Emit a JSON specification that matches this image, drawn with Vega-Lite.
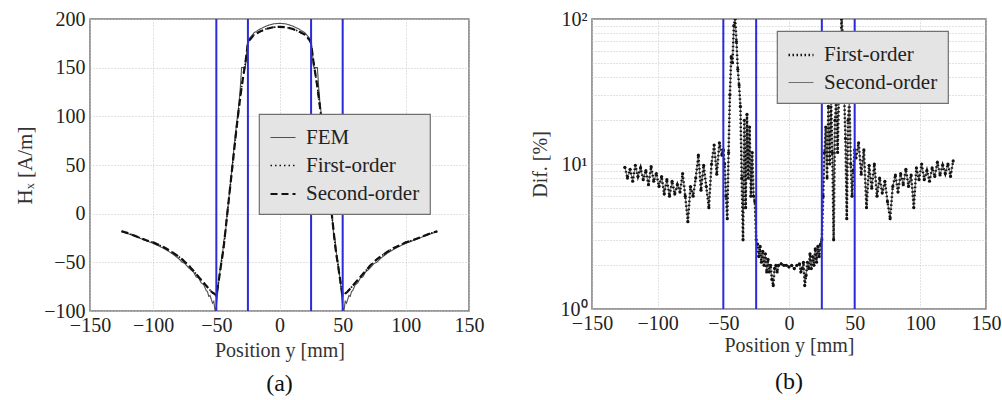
{
  "$schema": "https://vega.github.io/schema/vega-lite/v6.json",
  "background": "white",
  "padding": {"left": 13, "top": 8, "right": 5, "bottom": 5},
  "config": {
    "font": "Liberation Serif",
    "view": {"stroke": "#7a7a7a", "strokeWidth": 1.5},
    "axis": {
      "labelFont": "Liberation Serif", "labelFontSize": 20, "labelColor": "#222",
      "titleFont": "Liberation Serif", "titleFontSize": 20, "titleFontWeight": "normal", "titleColor": "#333",
      "domain": false, "ticks": false, "gridColor": "#c4c4c4", "gridDash": [1, 2], "gridWidth": 1,
      "labelPadding": 5, "labelFlush": false, "labelOverlap": false
    },
    "legend": {
      "orient": "none", "fillColor": "#e4e4e4", "strokeColor": "#707070", "strokeWidth": 1.2,
      "padding": 10, "symbolType": "stroke", "symbolSize": 625, "rowPadding": 4,
      "labelFont": "Liberation Serif", "labelFontSize": 21, "labelColor": "#222", "labelOffset": 9, "title": null
    }
  },
  "hconcat": [
    {
      "width": 379,
      "height": 292,
      "title": {"text": "(a)", "orient": "bottom", "fontSize": 24, "fontWeight": "normal", "font": "Liberation Serif", "color": "#111", "offset": 12},
      "layer": [
        {
          "data": {"values": [
            {"position": -125, "FEM": -18.5, "First-order": -18, "Second-order": -18},
            {"position": -120, "FEM": -20.5, "First-order": -20, "Second-order": -20},
            {"position": -115, "FEM": -23, "First-order": -22.5, "Second-order": -22.5},
            {"position": -110, "FEM": -25.5, "First-order": -25, "Second-order": -25},
            {"position": -105, "FEM": -28, "First-order": -27.5, "Second-order": -27.5},
            {"position": -100, "FEM": -30.5, "First-order": -29.5, "Second-order": -29.5},
            {"position": -95, "FEM": -33.5, "First-order": -32.5, "Second-order": -32.5},
            {"position": -90, "FEM": -37, "First-order": -35.5, "Second-order": -35.5},
            {"position": -85, "FEM": -41, "First-order": -39.5, "Second-order": -39.5},
            {"position": -80, "FEM": -46, "First-order": -44, "Second-order": -44},
            {"position": -77, "FEM": -50, "First-order": -47, "Second-order": -47},
            {"position": -75, "FEM": -51, "First-order": -49.5, "Second-order": -49.5},
            {"position": -72, "FEM": -55.5, "First-order": -53, "Second-order": -53},
            {"position": -70, "FEM": -58, "First-order": -56, "Second-order": -56},
            {"position": -68, "FEM": -60, "First-order": -59, "Second-order": -59},
            {"position": -66, "FEM": -65, "First-order": -62, "Second-order": -62},
            {"position": -64, "FEM": -66, "First-order": -65, "Second-order": -65},
            {"position": -62, "FEM": -71, "First-order": -68, "Second-order": -68},
            {"position": -60, "FEM": -73, "First-order": -71, "Second-order": -71},
            {"position": -58, "FEM": -79, "First-order": -74, "Second-order": -74},
            {"position": -57, "FEM": -80, "First-order": -75.5, "Second-order": -75.5},
            {"position": -56, "FEM": -85, "First-order": -77, "Second-order": -77},
            {"position": -55, "FEM": -84, "First-order": -78.5, "Second-order": -78.5},
            {"position": -54, "FEM": -88, "First-order": -80, "Second-order": -80},
            {"position": -53, "FEM": -92, "First-order": -81, "Second-order": -81},
            {"position": -52, "FEM": -90, "First-order": -82, "Second-order": -82},
            {"position": -51, "FEM": -100, "First-order": -83, "Second-order": -83},
            {"position": -50, "FEM": -96, "First-order": -85, "Second-order": -84},
            {"position": -49, "FEM": -82, "First-order": -76, "Second-order": -76},
            {"position": -48, "FEM": -68, "First-order": -68, "Second-order": -68},
            {"position": -46, "FEM": -48, "First-order": -50, "Second-order": -50},
            {"position": -45, "FEM": -40, "First-order": -42, "Second-order": -42},
            {"position": -44, "FEM": -27, "First-order": -32, "Second-order": -32},
            {"position": -43, "FEM": -24, "First-order": -20, "Second-order": -20},
            {"position": -42, "FEM": -8, "First-order": -8, "Second-order": -8},
            {"position": -40, "FEM": 17, "First-order": 16, "Second-order": 16},
            {"position": -38, "FEM": 42, "First-order": 40, "Second-order": 40},
            {"position": -36, "FEM": 68, "First-order": 64, "Second-order": 64},
            {"position": -34, "FEM": 92, "First-order": 88, "Second-order": 88},
            {"position": -32, "FEM": 114, "First-order": 110, "Second-order": 110},
            {"position": -31, "FEM": 130, "First-order": 120, "Second-order": 120},
            {"position": -30, "FEM": 150, "First-order": 130, "Second-order": 130},
            {"position": -28, "FEM": 150, "First-order": 147, "Second-order": 147},
            {"position": -27, "FEM": 151, "First-order": 155, "Second-order": 155},
            {"position": -26, "FEM": 166, "First-order": 165, "Second-order": 165},
            {"position": -25, "FEM": 177, "First-order": 175, "Second-order": 175},
            {"position": -24, "FEM": 180, "First-order": 178, "Second-order": 178},
            {"position": -22, "FEM": 183, "First-order": 181, "Second-order": 181},
            {"position": -20, "FEM": 186, "First-order": 184, "Second-order": 184},
            {"position": -15, "FEM": 190, "First-order": 187.5, "Second-order": 187.5},
            {"position": -10, "FEM": 193, "First-order": 190, "Second-order": 190},
            {"position": -5, "FEM": 195, "First-order": 191.5, "Second-order": 191.5},
            {"position": 0, "FEM": 195.5, "First-order": 192, "Second-order": 192},
            {"position": 5, "FEM": 195, "First-order": 191.5, "Second-order": 191.5},
            {"position": 10, "FEM": 193, "First-order": 190, "Second-order": 190},
            {"position": 15, "FEM": 190, "First-order": 187.5, "Second-order": 187.5},
            {"position": 20, "FEM": 186, "First-order": 184, "Second-order": 184},
            {"position": 22, "FEM": 183, "First-order": 181, "Second-order": 181},
            {"position": 24, "FEM": 180, "First-order": 178, "Second-order": 178},
            {"position": 25, "FEM": 177, "First-order": 175, "Second-order": 175},
            {"position": 26, "FEM": 166, "First-order": 165, "Second-order": 165},
            {"position": 27, "FEM": 151, "First-order": 155, "Second-order": 155},
            {"position": 28, "FEM": 150, "First-order": 147, "Second-order": 147},
            {"position": 30, "FEM": 150, "First-order": 130, "Second-order": 130},
            {"position": 31, "FEM": 130, "First-order": 120, "Second-order": 120},
            {"position": 32, "FEM": 114, "First-order": 110, "Second-order": 110},
            {"position": 34, "FEM": 92, "First-order": 88, "Second-order": 88},
            {"position": 36, "FEM": 68, "First-order": 64, "Second-order": 64},
            {"position": 38, "FEM": 42, "First-order": 40, "Second-order": 40},
            {"position": 40, "FEM": 17, "First-order": 16, "Second-order": 16},
            {"position": 42, "FEM": -8, "First-order": -8, "Second-order": -8},
            {"position": 43, "FEM": -24, "First-order": -20, "Second-order": -20},
            {"position": 44, "FEM": -27, "First-order": -32, "Second-order": -32},
            {"position": 45, "FEM": -40, "First-order": -42, "Second-order": -42},
            {"position": 46, "FEM": -48, "First-order": -50, "Second-order": -50},
            {"position": 48, "FEM": -68, "First-order": -68, "Second-order": -68},
            {"position": 49, "FEM": -82, "First-order": -76, "Second-order": -76},
            {"position": 50, "FEM": -96, "First-order": -85, "Second-order": -84},
            {"position": 51, "FEM": -100, "First-order": -83, "Second-order": -83},
            {"position": 52, "FEM": -90, "First-order": -82, "Second-order": -82},
            {"position": 53, "FEM": -92, "First-order": -81, "Second-order": -81},
            {"position": 54, "FEM": -88, "First-order": -80, "Second-order": -80},
            {"position": 55, "FEM": -84, "First-order": -78.5, "Second-order": -78.5},
            {"position": 56, "FEM": -85, "First-order": -77, "Second-order": -77},
            {"position": 57, "FEM": -80, "First-order": -75.5, "Second-order": -75.5},
            {"position": 58, "FEM": -79, "First-order": -74, "Second-order": -74},
            {"position": 60, "FEM": -73, "First-order": -71, "Second-order": -71},
            {"position": 62, "FEM": -71, "First-order": -68, "Second-order": -68},
            {"position": 64, "FEM": -66, "First-order": -65, "Second-order": -65},
            {"position": 66, "FEM": -65, "First-order": -62, "Second-order": -62},
            {"position": 68, "FEM": -60, "First-order": -59, "Second-order": -59},
            {"position": 70, "FEM": -58, "First-order": -56, "Second-order": -56},
            {"position": 72, "FEM": -55.5, "First-order": -53, "Second-order": -53},
            {"position": 75, "FEM": -51, "First-order": -49.5, "Second-order": -49.5},
            {"position": 77, "FEM": -50, "First-order": -47, "Second-order": -47},
            {"position": 80, "FEM": -46, "First-order": -44, "Second-order": -44},
            {"position": 85, "FEM": -41, "First-order": -39.5, "Second-order": -39.5},
            {"position": 90, "FEM": -37, "First-order": -35.5, "Second-order": -35.5},
            {"position": 95, "FEM": -33.5, "First-order": -32.5, "Second-order": -32.5},
            {"position": 100, "FEM": -30.5, "First-order": -29.5, "Second-order": -29.5},
            {"position": 105, "FEM": -28, "First-order": -27.5, "Second-order": -27.5},
            {"position": 110, "FEM": -25.5, "First-order": -25, "Second-order": -25},
            {"position": 115, "FEM": -23, "First-order": -22.5, "Second-order": -22.5},
            {"position": 120, "FEM": -20.5, "First-order": -20, "Second-order": -20},
            {"position": 125, "FEM": -18.5, "First-order": -18, "Second-order": -18}
          ]},
          "transform": [{"fold": ["FEM", "First-order", "Second-order"], "as": ["series", "Hx"]}],
          "mark": {"type": "line", "clip": true},
          "encoding": {
            "x": {"field": "position", "type": "quantitative", "scale": {"domain": [-150, 150], "nice": false},
                  "axis": {"values": [-150, -100, -50, 0, 50, 100, 150], "title": "Position y [mm]", "labelPadding": 4, "titlePadding": 5}},
            "y": {"field": "Hx", "type": "quantitative", "scale": {"domain": [-100, 200], "nice": false},
                  "axis": {"values": [-100, -50, 0, 50, 100, 150, 200], "title": "Hₓ [A/m]", "titlePadding": 8, "titleFontSize": 21}},
            "color": {"field": "series", "type": "nominal",
                      "scale": {"domain": ["FEM", "First-order", "Second-order"], "range": ["#505050", "#111111", "#111111"]},
                      "legend": {"legendX": 169, "legendY": 95}},
            "strokeDash": {"field": "series", "type": "nominal",
                           "scale": {"domain": ["FEM", "First-order", "Second-order"], "range": [[1, 0], [1.5, 3], [7, 4]]}},
            "strokeWidth": {"field": "series", "type": "nominal",
                            "scale": {"domain": ["FEM", "First-order", "Second-order"], "range": [1.1, 2.2, 3]}}
          }
        },
        {
          "data": {"values": [{"position": -50}, {"position": -25}, {"position": 25}, {"position": 50}]},
          "mark": {"type": "rule", "color": "#2b2bdc", "strokeWidth": 2},
          "encoding": {
            "x": {"field": "position", "type": "quantitative"}
          }
        }
      ]
    },
    {
      "width": 394,
      "height": 290,
      "title": {"text": "(b)", "orient": "bottom", "fontSize": 24, "fontWeight": "normal", "font": "Liberation Serif", "color": "#111", "offset": 15},
      "layer": [
        {
          "data": {"name": "dif", "values": [
            {"position": -125, "First-order": 9.5, "Second-order": 9.5},
            {"position": -123, "First-order": 8.0, "Second-order": 8.0},
            {"position": -121, "First-order": 9.2, "Second-order": 9.2},
            {"position": -119, "First-order": 7.6, "Second-order": 7.6},
            {"position": -117, "First-order": 9.8, "Second-order": 9.8},
            {"position": -115, "First-order": 8.2, "Second-order": 8.2},
            {"position": -113, "First-order": 9.4, "Second-order": 9.4},
            {"position": -111, "First-order": 7.8, "Second-order": 7.8},
            {"position": -109, "First-order": 9.0, "Second-order": 9.0},
            {"position": -107, "First-order": 7.2, "Second-order": 7.2},
            {"position": -105, "First-order": 9.6, "Second-order": 9.6},
            {"position": -103, "First-order": 7.6, "Second-order": 7.6},
            {"position": -101, "First-order": 8.6, "Second-order": 8.6},
            {"position": -99, "First-order": 7.0, "Second-order": 7.0},
            {"position": -97, "First-order": 8.2, "Second-order": 8.2},
            {"position": -95, "First-order": 6.2, "Second-order": 6.2},
            {"position": -93, "First-order": 7.8, "Second-order": 7.8},
            {"position": -91, "First-order": 6.0, "Second-order": 6.0},
            {"position": -89, "First-order": 7.6, "Second-order": 7.6},
            {"position": -87, "First-order": 6.2, "Second-order": 6.2},
            {"position": -85, "First-order": 7.2, "Second-order": 7.2},
            {"position": -83, "First-order": 6.4, "Second-order": 6.4},
            {"position": -81, "First-order": 8.6, "Second-order": 8.6},
            {"position": -79, "First-order": 6.0, "Second-order": 6.0},
            {"position": -77, "First-order": 4.0, "Second-order": 4.0},
            {"position": -75, "First-order": 7.0, "Second-order": 7.0},
            {"position": -73, "First-order": 6.0, "Second-order": 6.0},
            {"position": -71, "First-order": 8.0, "Second-order": 8.0},
            {"position": -69, "First-order": 11.5, "Second-order": 11.5},
            {"position": -67, "First-order": 6.6, "Second-order": 6.6},
            {"position": -65, "First-order": 9.8, "Second-order": 9.8},
            {"position": -63, "First-order": 7.0, "Second-order": 7.0},
            {"position": -61, "First-order": 5.0, "Second-order": 5.0},
            {"position": -59, "First-order": 10.0, "Second-order": 10.0},
            {"position": -57, "First-order": 13.5, "Second-order": 13.5},
            {"position": -55, "First-order": 8.5, "Second-order": 8.5},
            {"position": -53, "First-order": 14.0, "Second-order": 14.0},
            {"position": -51, "First-order": 11.5, "Second-order": 11.5},
            {"position": -50, "First-order": 12.5, "Second-order": 12.5},
            {"position": -49, "First-order": 10, "Second-order": 10},
            {"position": -48, "First-order": 6, "Second-order": 6},
            {"position": -47, "First-order": 4.2, "Second-order": 4.2},
            {"position": -46, "First-order": 12, "Second-order": 12},
            {"position": -45, "First-order": 30, "Second-order": 30},
            {"position": -44, "First-order": 55, "Second-order": 55},
            {"position": -43, "First-order": 50, "Second-order": 50},
            {"position": -42, "First-order": 90, "Second-order": 90},
            {"position": -41, "First-order": 100, "Second-order": 100},
            {"position": -40, "First-order": 70, "Second-order": 70},
            {"position": -39, "First-order": 45, "Second-order": 45},
            {"position": -38, "First-order": 35, "Second-order": 35},
            {"position": -37, "First-order": 25, "Second-order": 25},
            {"position": -36, "First-order": 8, "Second-order": 8},
            {"position": -35, "First-order": 3.0, "Second-order": 3.0},
            {"position": -34, "First-order": 20, "Second-order": 20},
            {"position": -33, "First-order": 5, "Second-order": 5},
            {"position": -32, "First-order": 22, "Second-order": 22},
            {"position": -31, "First-order": 8, "Second-order": 8},
            {"position": -30, "First-order": 18, "Second-order": 18},
            {"position": -29, "First-order": 6, "Second-order": 6},
            {"position": -28, "First-order": 12, "Second-order": 12},
            {"position": -27, "First-order": 6, "Second-order": 6},
            {"position": -26, "First-order": 5.5, "Second-order": 5.5},
            {"position": -25, "First-order": 3.0, "Second-order": 3.0},
            {"position": -24, "First-order": 2.8, "Second-order": 2.8},
            {"position": -23, "First-order": 2.3, "Second-order": 2.3},
            {"position": -22, "First-order": 2.7, "Second-order": 2.7},
            {"position": -21, "First-order": 2.1, "Second-order": 2.1},
            {"position": -20, "First-order": 2.5, "Second-order": 2.5},
            {"position": -19, "First-order": 2.0, "Second-order": 2.0},
            {"position": -18, "First-order": 2.4, "Second-order": 2.4},
            {"position": -17, "First-order": 1.8, "Second-order": 1.8},
            {"position": -16, "First-order": 2.2, "Second-order": 2.2},
            {"position": -15, "First-order": 1.8, "Second-order": 1.8},
            {"position": -14, "First-order": 2.0, "Second-order": 2.0},
            {"position": -13, "First-order": 1.6, "Second-order": 1.6},
            {"position": -12, "First-order": 1.45, "Second-order": 1.45},
            {"position": -11, "First-order": 1.9, "Second-order": 1.9},
            {"position": -10, "First-order": 2.0, "Second-order": 2.0},
            {"position": -9, "First-order": 1.8, "Second-order": 1.8},
            {"position": -8, "First-order": 2.0, "Second-order": 2.0},
            {"position": -6, "First-order": 2.05, "Second-order": 2.05},
            {"position": -4, "First-order": 2.0, "Second-order": 2.0},
            {"position": -2, "First-order": 2.0, "Second-order": 2.0},
            {"position": 0, "First-order": 1.95, "Second-order": 1.95},
            {"position": 2, "First-order": 2.0, "Second-order": 2.0},
            {"position": 4, "First-order": 1.9, "Second-order": 1.9},
            {"position": 6, "First-order": 2.0, "Second-order": 2.0},
            {"position": 8, "First-order": 2.05, "Second-order": 2.05},
            {"position": 9, "First-order": 1.8, "Second-order": 1.8},
            {"position": 10, "First-order": 1.9, "Second-order": 1.9},
            {"position": 11, "First-order": 2.1, "Second-order": 2.1},
            {"position": 12, "First-order": 1.45, "Second-order": 1.45},
            {"position": 13, "First-order": 1.7, "Second-order": 1.7},
            {"position": 14, "First-order": 2.1, "Second-order": 2.1},
            {"position": 15, "First-order": 1.9, "Second-order": 1.9},
            {"position": 16, "First-order": 2.4, "Second-order": 2.4},
            {"position": 17, "First-order": 1.9, "Second-order": 1.9},
            {"position": 18, "First-order": 2.3, "Second-order": 2.3},
            {"position": 19, "First-order": 2.0, "Second-order": 2.0},
            {"position": 20, "First-order": 2.6, "Second-order": 2.6},
            {"position": 21, "First-order": 2.1, "Second-order": 2.1},
            {"position": 22, "First-order": 2.7, "Second-order": 2.7},
            {"position": 23, "First-order": 2.3, "Second-order": 2.3},
            {"position": 24, "First-order": 2.8, "Second-order": 2.8},
            {"position": 25, "First-order": 3.0, "Second-order": 3.0},
            {"position": 26, "First-order": 6, "Second-order": 6},
            {"position": 27, "First-order": 12, "Second-order": 12},
            {"position": 28, "First-order": 18, "Second-order": 18},
            {"position": 29, "First-order": 8, "Second-order": 8},
            {"position": 30, "First-order": 25, "Second-order": 25},
            {"position": 31, "First-order": 10, "Second-order": 10},
            {"position": 32, "First-order": 28, "Second-order": 28},
            {"position": 33, "First-order": 12, "Second-order": 12},
            {"position": 34, "First-order": 3.0, "Second-order": 3.0},
            {"position": 35, "First-order": 20, "Second-order": 20},
            {"position": 36, "First-order": 28, "Second-order": 28},
            {"position": 37, "First-order": 12, "Second-order": 12},
            {"position": 38, "First-order": 30, "Second-order": 30},
            {"position": 39, "First-order": 50, "Second-order": 50},
            {"position": 40, "First-order": 100, "Second-order": 100},
            {"position": 41, "First-order": 75, "Second-order": 75},
            {"position": 42, "First-order": 30, "Second-order": 30},
            {"position": 43, "First-order": 15, "Second-order": 15},
            {"position": 44, "First-order": 4.2, "Second-order": 4.2},
            {"position": 45, "First-order": 20, "Second-order": 20},
            {"position": 46, "First-order": 28, "Second-order": 28},
            {"position": 47, "First-order": 10, "Second-order": 10},
            {"position": 48, "First-order": 6, "Second-order": 6},
            {"position": 49, "First-order": 9, "Second-order": 9},
            {"position": 50, "First-order": 12.5, "Second-order": 12.5},
            {"position": 51, "First-order": 11, "Second-order": 11},
            {"position": 53, "First-order": 14, "Second-order": 14},
            {"position": 55, "First-order": 8.5, "Second-order": 8.5},
            {"position": 57, "First-order": 12.5, "Second-order": 12.5},
            {"position": 59, "First-order": 5.0, "Second-order": 5.0},
            {"position": 61, "First-order": 9.8, "Second-order": 9.8},
            {"position": 63, "First-order": 6.8, "Second-order": 6.8},
            {"position": 65, "First-order": 10.0, "Second-order": 10.0},
            {"position": 67, "First-order": 6.0, "Second-order": 6.0},
            {"position": 69, "First-order": 8.0, "Second-order": 8.0},
            {"position": 71, "First-order": 6.3, "Second-order": 6.3},
            {"position": 73, "First-order": 7.6, "Second-order": 7.6},
            {"position": 75, "First-order": 5.5, "Second-order": 5.5},
            {"position": 77, "First-order": 4.2, "Second-order": 4.2},
            {"position": 79, "First-order": 7.0, "Second-order": 7.0},
            {"position": 81, "First-order": 8.4, "Second-order": 8.4},
            {"position": 83, "First-order": 6.4, "Second-order": 6.4},
            {"position": 85, "First-order": 8.6, "Second-order": 8.6},
            {"position": 87, "First-order": 7.2, "Second-order": 7.2},
            {"position": 89, "First-order": 9.2, "Second-order": 9.2},
            {"position": 91, "First-order": 7.0, "Second-order": 7.0},
            {"position": 93, "First-order": 8.4, "Second-order": 8.4},
            {"position": 95, "First-order": 5.0, "Second-order": 5.0},
            {"position": 97, "First-order": 9.4, "Second-order": 9.4},
            {"position": 99, "First-order": 7.8, "Second-order": 7.8},
            {"position": 101, "First-order": 10.0, "Second-order": 10.0},
            {"position": 103, "First-order": 7.8, "Second-order": 7.8},
            {"position": 105, "First-order": 9.0, "Second-order": 9.0},
            {"position": 107, "First-order": 7.6, "Second-order": 7.6},
            {"position": 109, "First-order": 9.4, "Second-order": 9.4},
            {"position": 111, "First-order": 8.2, "Second-order": 8.2},
            {"position": 113, "First-order": 10.3, "Second-order": 10.3},
            {"position": 115, "First-order": 8.4, "Second-order": 8.4},
            {"position": 117, "First-order": 9.8, "Second-order": 9.8},
            {"position": 119, "First-order": 8.6, "Second-order": 8.6},
            {"position": 121, "First-order": 10.0, "Second-order": 10.0},
            {"position": 123, "First-order": 8.2, "Second-order": 8.2},
            {"position": 125, "First-order": 10.5, "Second-order": 10.5}
          ]},
          "transform": [{"fold": ["Second-order", "First-order"], "as": ["method", "dif"]}],
          "mark": {"type": "line", "clip": true},
          "encoding": {
            "x": {"field": "position", "type": "quantitative", "scale": {"domain": [-150, 150], "nice": false},
                  "axis": {"values": [-150, -100, -50, 0, 50, 100, 150], "title": "Position y [mm]", "labelPadding": 4, "titlePadding": 2}},
            "y": {"field": "dif", "type": "quantitative", "scale": {"type": "log", "domain": [1, 100], "nice": false},
                  "axis": {"values": [1, 2, 3, 4, 5, 6, 7, 8, 9, 10, 20, 30, 40, 50, 60, 70, 80, 90, 100],
                           "labelExpr": "datum.value == 1 ? '10⁰' : datum.value == 10 ? '10¹' : datum.value == 100 ? '10²' : ''",
                           "title": "Dif. [%]", "titlePadding": 10}},
            "color": {"field": "method", "type": "nominal",
                      "scale": {"domain": ["First-order", "Second-order"], "range": ["#111111", "#707070"]},
                      "legend": {"legendX": 185, "legendY": 12}},
            "strokeDash": {"field": "method", "type": "nominal",
                           "scale": {"domain": ["First-order", "Second-order"], "range": [[1.5, 2.5], [1, 0]]}},
            "strokeWidth": {"field": "method", "type": "nominal",
                            "scale": {"domain": ["First-order", "Second-order"], "range": [2.5, 1.2]}}
          }
        },
        {
          "data": {"name": "dif"},
          "transform": [{"fold": ["First-order"], "as": ["method", "dif"]}],
          "mark": {"type": "point", "filled": true, "size": 10, "color": "#111", "opacity": 1, "clip": true},
          "encoding": {
            "x": {"field": "position", "type": "quantitative"},
            "y": {"field": "dif", "type": "quantitative"}
          }
        },
        {
          "data": {"values": [{"position": -50}, {"position": -25}, {"position": 25}, {"position": 50}]},
          "mark": {"type": "rule", "color": "#2b2bdc", "strokeWidth": 2},
          "encoding": {
            "x": {"field": "position", "type": "quantitative"}
          }
        }
      ]
    }
  ],
  "spacing": 123,
  "bounds": "flush",
  "resolve": {
    "scale": {"x": "independent", "y": "independent", "color": "independent", "strokeDash": "independent", "strokeWidth": "independent"},
    "legend": {"color": "independent", "strokeDash": "independent", "strokeWidth": "independent"}
  }
}
